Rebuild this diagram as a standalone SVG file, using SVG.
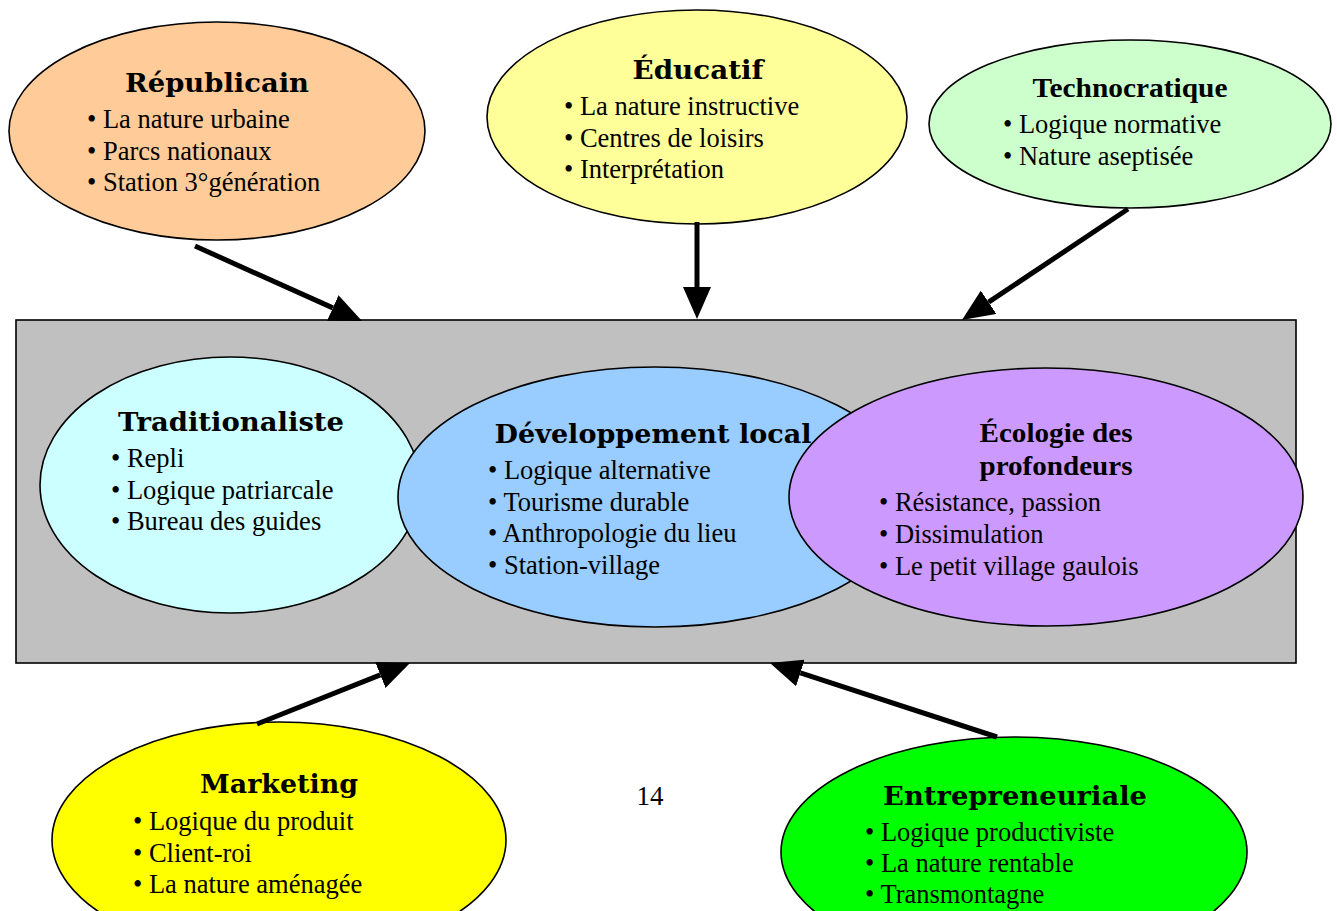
<svg xmlns="http://www.w3.org/2000/svg" width="1337" height="911" viewBox="0 0 1337 911">
  <style>
    .node { stroke: #000; stroke-width: 1.6; }
    .title { font-family: "DejaVu Serif", "Liberation Serif", serif; font-weight: bold; font-size: 26px; fill: #000; text-anchor: middle; }
    .title-t { font-family: "Liberation Serif", "Times New Roman", serif; font-weight: bold; font-size: 27px; fill: #000; text-anchor: middle; }
    .item { font-family: "Liberation Serif", "Times New Roman", serif; font-size: 26.5px; fill: #000; }
    .page { font-family: "Liberation Serif", "Times New Roman", serif; font-size: 27px; fill: #000; text-anchor: middle; }
    .arrow { stroke: #000; stroke-width: 5; fill: none; marker-end: url(#head); }
  </style>
  <defs>
    <marker id="head" markerUnits="userSpaceOnUse" viewBox="0 0 32 28" markerWidth="32" markerHeight="28" refX="0" refY="14" orient="auto">
      <path d="M0,0 L32,14 L0,28 z" fill="#000"/>
    </marker>
  </defs>

  <rect width="1337" height="911" fill="#fff"/>

  <!-- central frame -->
  <g id="frame">
    <rect x="16" y="320" width="1280" height="343" fill="#c0c0c0" stroke="#000" stroke-width="1.6"/>
  </g>

  <g id="republicain">
    <ellipse class="node" cx="217" cy="131" rx="208" ry="109" fill="#ffcc99"/>
    <text class="title" x="217" y="92" textLength="184" lengthAdjust="spacingAndGlyphs">Républicain</text>
    <text class="item" x="87" y="128">• La nature urbaine</text>
    <text class="item" x="87" y="160">• Parcs nationaux</text>
    <text class="item" x="87" y="191">• Station 3°génération</text>
  </g>

  <g id="educatif">
    <ellipse class="node" cx="697" cy="117" rx="210" ry="107" fill="#ffff99"/>
    <text class="title" x="698" y="79" textLength="131" lengthAdjust="spacingAndGlyphs">Éducatif</text>
    <text class="item" x="564" y="115">• La nature instructive</text>
    <text class="item" x="564" y="147">• Centres de loisirs</text>
    <text class="item" x="564" y="178">• Interprétation</text>
  </g>

  <g id="technocratique">
    <ellipse class="node" cx="1130" cy="124" rx="201" ry="84" fill="#ccffcc"/>
    <text class="title-t" x="1130" y="97" textLength="195" lengthAdjust="spacingAndGlyphs">Technocratique</text>
    <text class="item" x="1003" y="133">• Logique normative</text>
    <text class="item" x="1003" y="165">• Nature aseptisée</text>
  </g>

  <g id="traditionaliste">
    <ellipse class="node" cx="230" cy="485" rx="190" ry="128" fill="#ccffff"/>
    <text class="title" x="231" y="431" textLength="226" lengthAdjust="spacingAndGlyphs">Traditionaliste</text>
    <text class="item" x="111" y="467">• Repli</text>
    <text class="item" x="111" y="499">• Logique patriarcale</text>
    <text class="item" x="111" y="530">• Bureau des guides</text>
  </g>

  <g id="developpement-local">
    <ellipse class="node" cx="655" cy="497" rx="257" ry="130" fill="#99ccff"/>
    <text class="title" x="653" y="443" textLength="317" lengthAdjust="spacingAndGlyphs">Développement local</text>
    <text class="item" x="488" y="479">• Logique alternative</text>
    <text class="item" x="488" y="511">• Tourisme durable</text>
    <text class="item" x="488" y="542">• Anthropologie du lieu</text>
    <text class="item" x="488" y="574">• Station-village</text>
  </g>

  <g id="ecologie">
    <ellipse class="node" cx="1046" cy="497" rx="257" ry="129" fill="#cc99ff"/>
    <text class="title-t" x="1056" y="442" textLength="153" lengthAdjust="spacingAndGlyphs">Écologie des</text>
    <text class="title-t" x="1056" y="475" textLength="153" lengthAdjust="spacingAndGlyphs">profondeurs</text>
    <text class="item" x="879" y="511">• Résistance, passion</text>
    <text class="item" x="879" y="543">• Dissimulation</text>
    <text class="item" x="879" y="575">• Le petit village gaulois</text>
  </g>

  <g id="marketing">
    <ellipse class="node" cx="279" cy="840" rx="227" ry="118" fill="#ffff00"/>
    <text class="title" x="279" y="793" textLength="158" lengthAdjust="spacingAndGlyphs">Marketing</text>
    <text class="item" x="133" y="830">• Logique du produit</text>
    <text class="item" x="133" y="862">• Client-roi</text>
    <text class="item" x="133" y="893">• La nature aménagée</text>
  </g>

  <g id="entrepreneuriale">
    <ellipse class="node" cx="1014" cy="852" rx="233" ry="115" fill="#00ff00"/>
    <text class="title" x="1015" y="805" textLength="264" lengthAdjust="spacingAndGlyphs">Entrepreneuriale</text>
    <text class="item" x="865" y="841">• Logique productiviste</text>
    <text class="item" x="865" y="872">• La nature rentable</text>
    <text class="item" x="865" y="903">• Transmontagne</text>
  </g>

  <text class="page" x="650" y="805">14</text>

  <!-- connectors: lines end at the arrowhead base, the marker supplies the tip -->
  <g id="connectors">
    <path class="arrow" d="M195,246 L332.8,307.9"/>
    <path class="arrow" d="M697,222 L697,287"/>
    <path class="arrow" d="M1128,209 L988.6,302.2"/>
    <path class="arrow" d="M257,724 L380.3,674.9"/>
    <path class="arrow" d="M997,737 L800.4,672.9"/>
  </g>
</svg>
